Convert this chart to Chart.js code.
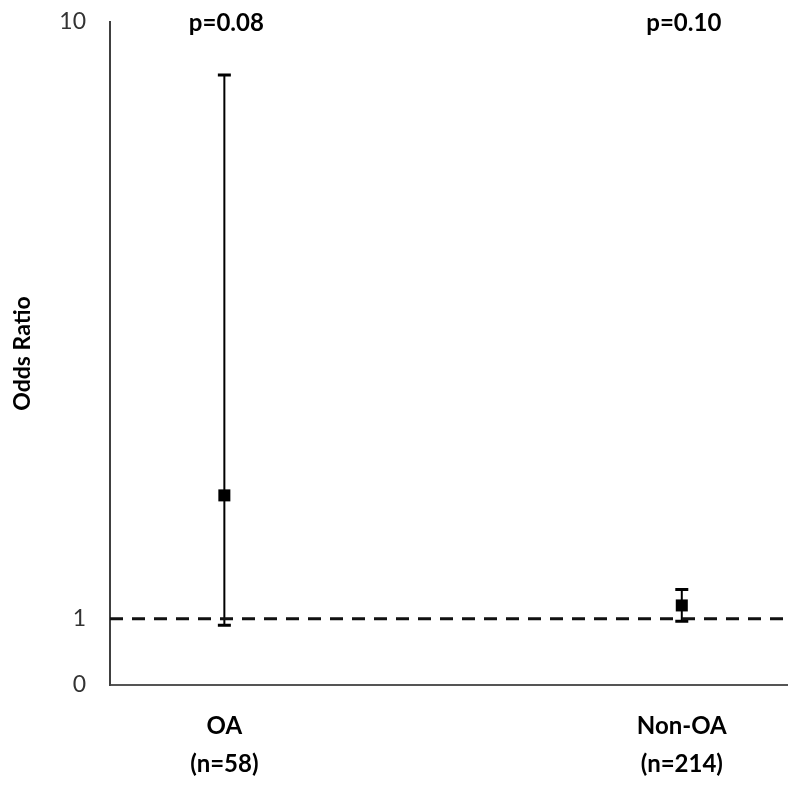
<!DOCTYPE html>
<html>
<head>
<meta charset="utf-8">
<script src="https://cdn.jsdelivr.net/npm/chart.js@4/dist/chart.umd.min.js"></script>
<style>
    html, body { margin: 0; padding: 0; background: #fff; }
</style>
</head>
<body>
<canvas id="chart" width="800" height="787"></canvas>
<script>
const categories = ['OA', 'Non-OA'];
const sampleSizes = ['(n=58)', '(n=214)'];
const oddsRatios = [2.86, 1.2];
const lowerCI = [0.9, 0.96];
const upperCI = [9.2, 1.44];
const pValues = ['p=0.08', 'p=0.10'];
const yTicks = [0, 1, 10];
const referenceValue = 1;

const FONT = 'Lato, "Open Sans", sans-serif';
const X_MIN = 0.75;
const X_MAX = 2.23;

// whiskers go under the markers, p-values on top of everything
const errorBars = {
    id: 'errorBars',
    beforeDatasetsDraw(chart) {
        const { ctx, scales: { x, y } } = chart;
        ctx.save();
        ctx.strokeStyle = '#000';
        categories.forEach((c, i) => {
            const px = x.getPixelForValue(i + 1);
            const lo = y.getPixelForValue(lowerCI[i]);
            const hi = y.getPixelForValue(upperCI[i]);
            ctx.lineWidth = 2;
            ctx.beginPath();
            ctx.moveTo(px, lo);
            ctx.lineTo(px, hi);
            ctx.stroke();
            ctx.lineWidth = 3;
            ctx.beginPath();
            ctx.moveTo(px - 6.5, lo);
            ctx.lineTo(px + 6.5, lo);
            ctx.moveTo(px - 6.5, hi);
            ctx.lineTo(px + 6.5, hi);
            ctx.stroke();
        });
        ctx.restore();
    },
    afterDraw(chart) {
        const { ctx, chartArea, scales: { x } } = chart;
        ctx.save();
        ctx.fillStyle = '#000';
        ctx.font = 'bold 24px ' + FONT;
        ctx.textAlign = 'center';
        ctx.textBaseline = 'middle';
        pValues.forEach((p, i) => {
            ctx.fillText(p, x.getPixelForValue(i + 1) + 2, chartArea.top + 1);
        });
        ctx.restore();
    }
};

new Chart(document.getElementById('chart'), {
    type: 'scatter',
    data: {
        datasets: [
            {
                data: categories.map((c, i) => ({ x: i + 1, y: oddsRatios[i] })),
                pointStyle: 'rect',
                pointRadius: 8.5,
                pointHoverRadius: 8.5,
                backgroundColor: '#000',
                borderWidth: 0
            },
            {
                data: [{ x: X_MIN, y: referenceValue }, { x: X_MAX, y: referenceValue }],
                showLine: true,
                borderColor: '#111',
                borderWidth: 3,
                borderDash: [13, 9],
                pointRadius: 0
            }
        ]
    },
    options: {
        responsive: false,
        animation: false,
        layout: { padding: { top: 22, right: 13, bottom: 0, left: 9 } },
        plugins: {
            legend: { display: false },
            tooltip: { enabled: false }
        },
        scales: {
            x: {
                type: 'linear',
                min: X_MIN,
                max: X_MAX,
                afterBuildTicks: (scale) => {
                    scale.ticks = categories.map((c, i) => ({ value: i + 1 }));
                },
                afterFit: (scale) => { scale.height = 102; },
                grid: { display: false, drawTicks: false },
                border: { display: true, color: '#555', width: 2 },
                ticks: {
                    padding: 23,
                    color: '#000',
                    font: { family: FONT, size: 24, weight: 'bold', lineHeight: 1.55 },
                    callback: (v) => [categories[v - 1], sampleSizes[v - 1]]
                }
            },
            y: {
                type: 'linear',
                min: 0,
                max: 10,
                afterBuildTicks: (scale) => {
                    scale.ticks = yTicks.map(v => ({ value: v }));
                },
                afterFit: (scale) => {
                    scale.width = 101;
                    scale.paddingTop = 0;
                    scale.paddingBottom = 0;
                },
                grid: { display: false, drawTicks: false },
                border: { display: true, color: '#404040', width: 2 },
                ticks: {
                    padding: 24,
                    color: '#333',
                    font: { family: FONT, size: 23 }
                },
                title: {
                    display: true,
                    text: 'Odds Ratio',
                    color: '#000',
                    padding: 0,
                    font: { family: FONT, size: 23, weight: 'bold' }
                }
            }
        }
    },
    plugins: [errorBars]
});
</script>
</body>
</html>
